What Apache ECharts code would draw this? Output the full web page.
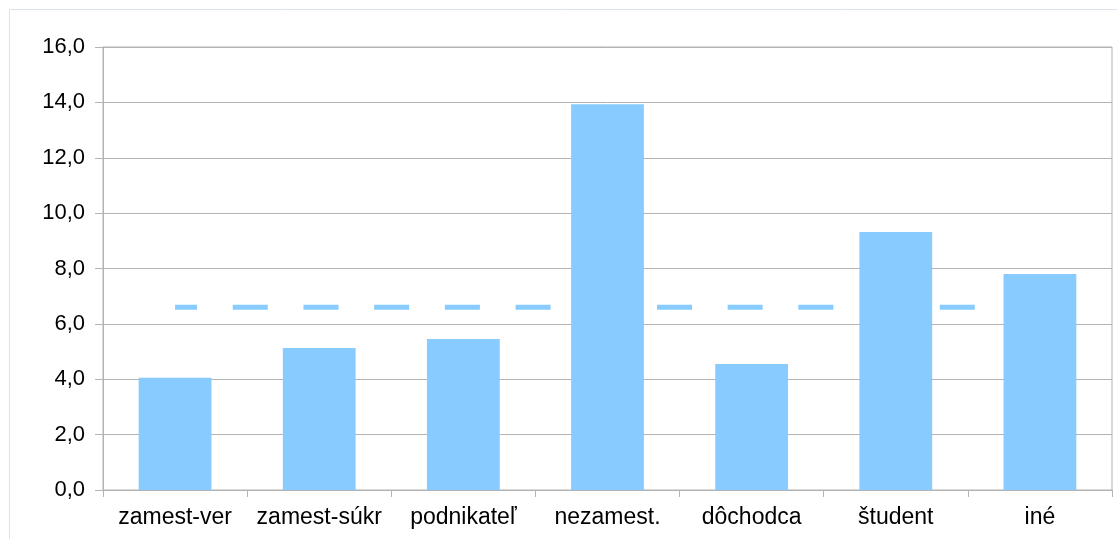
<!DOCTYPE html>
<html><head><meta charset="utf-8">
<script src="https://cdn.jsdelivr.net/npm/echarts@6/dist/echarts.min.js"></script>
<style>html,body{margin:0;padding:0;background:#fff}#c{width:1117px;height:539px}</style>
</head><body><div id="c"></div>
<script>
const categories = ['zamest-ver','zamest-súkr','podnikateľ','nezamest.','dôchodca','študent','iné'];
const values = [4.05, 5.13, 5.45, 13.93, 4.55, 9.32, 7.8];
const averageValue = 6.6;
const averageLine = categories.map(() => averageValue);

const chart = echarts.init(document.getElementById('c'), null, {renderer:'canvas'});
chart.setOption({
  animation:false,
  backgroundColor:'#ffffff',
  graphic:[{type:'rect', shape:{x:9.5,y:9.5,width:1120,height:560}, style:{fill:'none',stroke:'#dde3ea',lineWidth:1}, silent:true, z:-10}],
  grid:{left:103,right:5,top:47,bottom:49,show:true,borderColor:'#b3b3b3',borderWidth:1,backgroundColor:'transparent'},
  xAxis:{type:'category',data:categories,
    axisLine:{lineStyle:{color:'#b3b3b3'}},
    axisTick:{show:true,interval:0,length:7,lineStyle:{color:'#b3b3b3'}},
    axisLabel:{interval:0,hideOverlap:false,color:'#000',fontFamily:'Liberation Sans',fontSize:23,margin:16}},
  yAxis:{type:'value',min:0,max:16,interval:2,
    axisLine:{show:true,lineStyle:{color:'#b3b3b3'}},
    axisTick:{show:true,length:8,lineStyle:{color:'#b3b3b3'}},
    splitLine:{lineStyle:{color:'#b3b3b3'}},
    axisLabel:{color:'#000',fontFamily:'Liberation Sans',fontSize:22,margin:18,
      formatter:v=>v.toFixed(1).replace('.',',')}},
  series:[
    {type:'line',data:averageLine,showSymbol:false,z:1,
      lineStyle:{color:'#87cbff',width:5,type:[35,35.7],dashOffset:13,cap:'butt'}},
    {type:'bar',data:values,barWidth:'50.5%',z:2,itemStyle:{color:'#87cbff'}}
  ]
});
</script></body></html>
